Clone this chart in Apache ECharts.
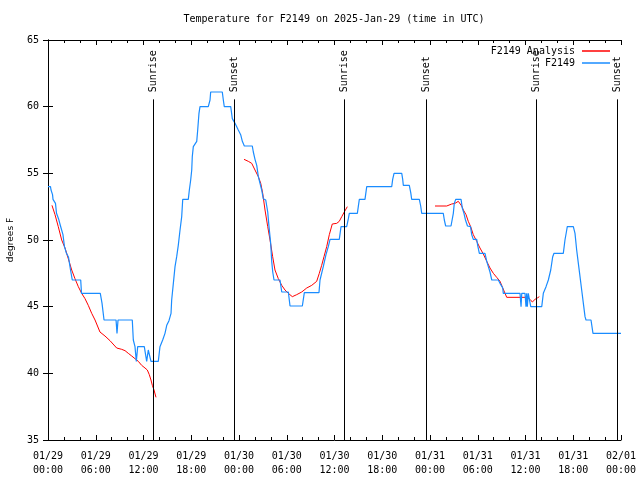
<!DOCTYPE html>
<html>
<head>
<meta charset="utf-8">
<script src="https://cdn.jsdelivr.net/npm/echarts@6/dist/echarts.min.js"></script>
<style>html,body{margin:0;padding:0;background:#fff}#c{width:640px;height:480px}</style>
</head>
<body>
<div id="c"></div>
<script>
// time in hours since 2025-01-29 00:00 UTC, temperature in degrees F
const f2149 = [
[0,54.0],[0.31,54.0],[0.38,53.75],[0.50,53.75],[0.57,53.4],[0.63,53.05],[0.88,53.05],[0.94,52.75],[1.07,52.0],[1.32,51.6],[1.57,51.05],[1.88,50.4],[2.07,49.5],[2.32,49.0],[2.58,48.7],[2.83,47.75],[3.05,47.0],[4.11,47.0],[4.21,46.0],[6.57,46.0],[6.79,45.25],[7.04,44.0],[8.55,44.0],[8.67,43.0],[8.80,44.0],[10.59,44.0],[10.72,42.5],[10.93,42.0],[11.10,40.9],[11.27,42.0],[12.10,42.0],[12.40,40.9],[12.60,41.75],[12.82,41.75],[12.94,40.9],[13.86,40.9],[14.07,42.0],[14.41,42.5],[14.70,43.0],[14.92,43.6],[15.20,43.95],[15.46,44.5],[15.54,45.5],[15.75,46.75],[15.96,48.0],[16.17,48.75],[16.37,49.6],[16.59,50.75],[16.80,51.75],[16.93,53.05],[17.63,53.05],[17.76,53.75],[17.93,54.5],[18.06,55.25],[18.13,56.25],[18.26,57.0],[18.69,57.4],[18.81,58.25],[18.97,59.5],[19.10,60.0],[20.14,60.0],[20.36,60.5],[20.44,61.1],[21.90,61.1],[22.03,60.5],[22.15,60.0],[22.96,60.0],[23.16,59.1],[23.50,58.75],[23.91,58.25],[24.21,57.9],[24.42,57.4],[24.67,57.05],[25.67,57.05],[25.80,56.6],[26.01,56.05],[26.23,55.6],[26.43,54.75],[26.64,54.25],[26.85,53.75],[27.05,53.1],[27.36,53.0],[27.61,52.1],[27.77,51.0],[27.98,49.75],[28.11,48.4],[28.24,47.6],[28.40,47.0],[29.15,47.0],[29.37,46.1],[30.20,46.1],[30.41,45.05],[31.96,45.05],[32.21,46.05],[34.05,46.05],[34.18,47.0],[34.59,48.0],[34.93,48.9],[35.22,49.5],[35.44,50.05],[36.60,50.05],[36.82,51.0],[37.53,51.0],[37.74,51.6],[37.86,52.0],[38.87,52.0],[38.99,52.5],[39.12,53.05],[39.83,53.05],[40.05,54.0],[43.19,54.0],[43.31,54.55],[43.48,55.0],[44.45,55.0],[44.57,54.55],[44.65,54.1],[45.40,54.1],[45.58,53.55],[45.70,53.05],[46.66,53.05],[46.83,52.55],[46.96,52.0],[49.67,52.0],[49.80,51.5],[49.97,51.05],[50.64,51.05],[50.93,52.0],[51.05,52.75],[51.23,53.05],[51.90,53.05],[52.06,52.4],[52.27,52.0],[52.46,51.5],[52.71,51.05],[53.09,51.0],[53.24,50.4],[53.44,50.05],[53.87,50.05],[53.99,49.6],[54.20,49.0],[54.91,49.0],[55.13,48.4],[55.33,48.0],[55.54,47.6],[55.76,47.0],[56.58,47.0],[56.80,46.75],[57.14,46.4],[57.21,46.0],[59.31,46.0],[59.44,45.0],[59.53,46.0],[59.94,46.0],[60.06,45.0],[60.15,46.0],[60.23,45.0],[60.35,46.0],[60.57,46.0],[60.66,45.0],[62.04,45.0],[62.24,46.0],[62.58,46.5],[62.87,47.0],[63.17,47.75],[63.42,48.75],[63.58,49.0],[64.75,49.0],[64.96,50.0],[65.18,50.75],[65.25,51.0],[66.01,51.0],[66.22,50.5],[66.43,49.25],[66.64,48.25],[66.85,47.25],[67.06,46.25],[67.27,45.25],[67.48,44.25],[67.60,44.0],[68.23,44.0],[68.48,43.0],[72.0,43.0]
];
const analysisRun1 = [
[0.50,52.6],[0.88,51.9],[1.29,51.0],[1.72,50.0],[2.14,49.4],[2.55,48.6],[2.98,47.75],[3.39,47.1],[3.81,46.5],[4.23,46.0],[4.65,45.6],[5.06,45.1],[5.49,44.5],[5.91,44.0],[6.53,43.1],[7.16,42.8],[7.79,42.45],[8.17,42.2],[8.63,41.9],[9.26,41.8],[9.68,41.7],[10.09,41.5],[10.52,41.3],[10.93,41.1],[11.35,40.9],[11.77,40.6],[12.19,40.4],[12.48,40.25],[12.73,39.9],[12.94,39.5],[13.11,39.1],[13.32,38.75],[13.57,38.2]
];
const analysisRun2 = [
[24.63,56.05],[25.17,55.9],[25.60,55.75],[26.01,55.25],[26.43,54.75],[26.73,54.25],[26.98,53.5],[27.27,52.25],[27.61,51.0],[27.90,50.0],[28.23,48.75],[28.52,47.75],[28.94,47.1],[29.37,46.6],[29.78,46.25],[30.20,46.0],[30.70,45.75],[31.25,45.9],[31.88,46.1],[32.51,46.4],[33.14,46.6],[33.76,46.9],[34.09,47.5],[34.39,48.1],[34.68,48.75],[35.02,49.5],[35.35,50.4],[35.72,51.2],[36.28,51.25],[36.60,51.4],[36.91,51.75],[37.23,52.1],[37.61,52.5]
];
const analysisRun3 = [
[48.63,52.55],[50.10,52.55],[50.73,52.7],[51.14,52.75],[51.56,52.9],[51.77,52.85],[51.98,52.55],[52.19,52.25],[52.53,51.9],[52.81,51.4],[53.11,51.0],[53.44,50.4],[53.87,49.9],[54.28,49.4],[54.70,48.95],[55.13,48.4],[55.54,47.9],[55.96,47.5],[56.38,47.2],[56.80,46.9],[57.14,46.4],[57.43,46.0],[57.64,45.7],[60.15,45.7],[60.57,45.55],[60.86,45.35],[61.20,45.55],[61.48,45.65],[61.74,45.75]
];
const sunTimes = [13.24, 23.43, 37.24, 47.52, 61.30, 71.50];
const sunLabels = ['Sunrise', 'Sunset', 'Sunrise', 'Sunset', 'Sunrise', 'Sunset'];
const sunLineTop = 60.55;
const yMin = 35, yMax = 65, yStep = 5;
const xMin = 0, xMax = 72, xStep = 6;
const dayLabels = ['01/29', '01/30', '01/31', '02/01'];

const analysis = analysisRun1.concat([[14, null]], analysisRun2, [[40, null]], analysisRun3);

const MONO = '"DejaVu Sans Mono", "Liberation Mono", monospace';
const chart = echarts.init(document.getElementById('c'), null, {renderer: 'canvas'});

function xLabel(h) {
  const d = Math.floor(h / 24 + 1e-6);
  const hh = Math.round(h - d * 24);
  return dayLabels[d] + '\n' + (hh < 10 ? '0' : '') + hh + ':00';
}

const axisLineStyle = {show: true, lineStyle: {color: '#000', width: 1}};
const xCommon = {
  type: 'value', min: xMin, max: xMax, interval: xStep,
  axisLine: axisLineStyle,
  axisTick: {show: true, inside: true, length: 5, lineStyle: {color: '#000'}},
  minorTick: {show: true, splitNumber: 3, length: 3, lineStyle: {color: '#000'}},
  splitLine: {show: false}, minorSplitLine: {show: false}
};
const yCommon = {
  type: 'value', min: yMin, max: yMax, interval: yStep,
  axisLine: axisLineStyle,
  axisTick: {show: true, inside: true, length: 5, lineStyle: {color: '#000'}},
  splitLine: {show: false}
};

chart.setOption({
  animation: false,
  backgroundColor: '#fff',
  title: {
    text: 'Temperature for F2149 on 2025-Jan-29 (time in UTC)',
    left: 334, textAlign: 'center', top: 14,
    padding: 0,
    textStyle: {fontFamily: MONO, fontSize: 10, fontWeight: 'normal', color: '#000'}
  },
  legend: [
    {data: ['F2149 Analysis'], right: 30, top: 46, padding: 0, align: 'right', icon: 'rect',
     itemWidth: 28, itemHeight: 1.5, textStyle: {fontFamily: MONO, fontSize: 10, color: '#000', padding: [0, 2, 0, 0]}},
    {data: ['F2149'], right: 30, top: 58, padding: 0, align: 'right', icon: 'rect',
     itemWidth: 28, itemHeight: 1.5, textStyle: {fontFamily: MONO, fontSize: 10, color: '#000', padding: [0, 2, 0, 0]}}
  ],
  grid: {left: 48, right: 19, top: 40, bottom: 40, containLabel: false, outerBoundsMode: 'none'},
  xAxis: [
    Object.assign({}, xCommon, {position: 'bottom',
      axisLabel: {show: true, formatter: xLabel, fontFamily: MONO, fontSize: 10, color: '#000', lineHeight: 14, margin: 9, showMinLabel: true, showMaxLabel: true}}),
    Object.assign({}, xCommon, {position: 'top', axisLabel: {show: false}})
  ],
  yAxis: [
    Object.assign({}, yCommon, {position: 'left',
      name: 'degrees F', nameLocation: 'middle', nameGap: 33, nameRotate: 90,
      nameTextStyle: {fontFamily: '"DejaVu Sans", sans-serif', fontSize: 9, color: '#000'},
      axisLabel: {show: true, fontFamily: MONO, fontSize: 10, color: '#000', margin: 9}}),
    Object.assign({}, yCommon, {position: 'right', axisLabel: {show: false}})
  ],
  series: [
    {
      name: 'F2149 Analysis', type: 'line', xAxisIndex: 0, yAxisIndex: 0,
      data: analysis, showSymbol: false, connectNulls: false,
      lineStyle: {color: '#ff0000', width: 1}, itemStyle: {color: '#ff0000'}, z: 3
    },
    {
      name: 'F2149', type: 'line', xAxisIndex: 0, yAxisIndex: 0,
      data: f2149, showSymbol: false,
      lineStyle: {color: '#1a8cff', width: 1.2}, itemStyle: {color: '#1a8cff'}, z: 4
    },
    {
      name: 'sun', type: 'custom', xAxisIndex: 0, yAxisIndex: 0, clip: false, silent: true, z: 5,
      data: sunTimes.map(t => [t, yMin]),
      renderItem: function (params, api) {
        const b = api.coord([api.value(0), yMin]);
        const t = api.coord([api.value(0), sunLineTop]);
        const x = Math.round(b[0]) + 0.5;
        return {
          type: 'group',
          children: [
            {type: 'line', shape: {x1: x, y1: b[1], x2: x, y2: t[1]}, style: {stroke: '#000', lineWidth: 1}},
            {type: 'text', x: x, y: t[1] - 7, rotation: Math.PI / 2,
             style: {text: sunLabels[params.dataIndex], align: 'left', verticalAlign: 'middle',
                     font: '10px ' + MONO, fill: '#000'}}
          ]
        };
      }
    }
  ]
});
</script>
</body>
</html>
